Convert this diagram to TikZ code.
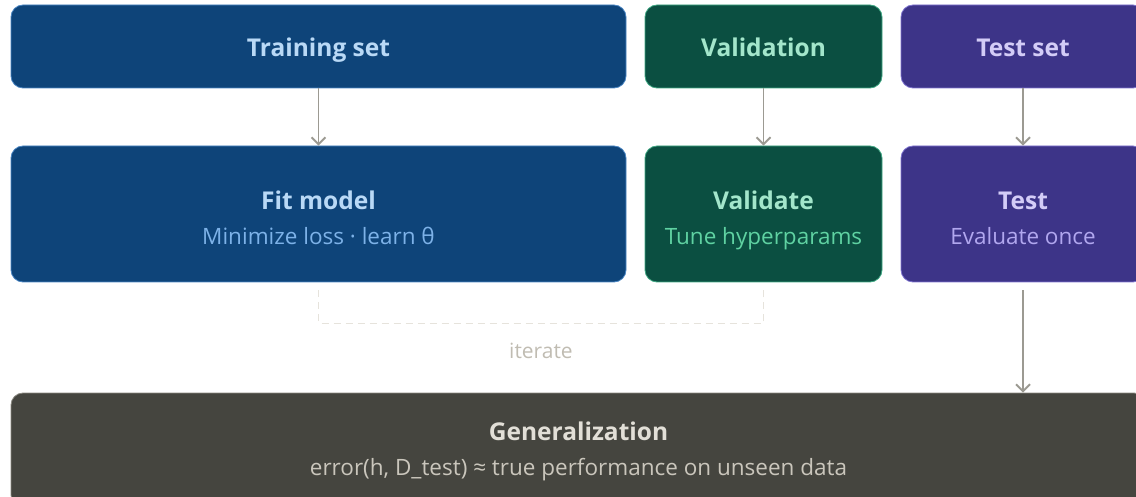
\documentclass[tikz,border=0pt]{standalone}
\usepackage{fontspec}
\setmainfont{Open Sans}
\usetikzlibrary{arrows.meta,calc}
\definecolor{trainfill}{HTML}{0E4479}
\definecolor{trainline}{HTML}{4A86C4}
\definecolor{traintitle}{HTML}{B9D9F6}
\definecolor{trainsub}{HTML}{7DB2E8}
\definecolor{valfill}{HTML}{0B4F41}
\definecolor{valline}{HTML}{3FA883}
\definecolor{valtitle}{HTML}{A3E6CB}
\definecolor{valsub}{HTML}{5FD2A2}
\definecolor{testfill}{HTML}{3D3488}
\definecolor{testline}{HTML}{7F74D0}
\definecolor{testtitle}{HTML}{D3CCF7}
\definecolor{testsub}{HTML}{B1A7EF}
\definecolor{genfill}{HTML}{45453F}
\definecolor{genline}{HTML}{8A8880}
\definecolor{gentitle}{HTML}{E2DFD7}
\definecolor{gensub}{HTML}{CAC6BC}
\definecolor{arrowgray}{HTML}{9C9A92}
\definecolor{loopgray}{HTML}{E6E3DC}
\definecolor{notegray}{HTML}{C0BCB2}
\tikzset{
  box/.style={rectangle, rounded corners=12pt, line width=0.8pt, inner sep=0pt},
  headbox/.style={box, minimum height=83pt},
  stagebox/.style={box, minimum height=136pt},
  ttl/.style={inner sep=0pt, anchor=base, font=\fontsize{24.5}{28}\selectfont\bfseries},
  sub/.style={inner sep=0pt, anchor=base, font=\fontsize{22.5}{26}\selectfont},
  flow/.style={draw=arrowgray, line width=1.9pt, -{Straight Barb[length=7pt, width=14pt, line width=1.9pt]}},
  iterloop/.style={draw=loopgray, line width=1.2pt, dash pattern=on 7pt off 5pt},
}
\begin{document}
\begin{tikzpicture}[x=1pt, y=-1pt]
\useasboundingbox (0,0) rectangle (1136,497);

% data splits
\node[headbox, fill=trainfill, draw=trainline, minimum width=615pt] (train) at (318.5,46.5) {};
\node[ttl, text=traintitle] (train-t) at ($(train.center)+(0,10.5)$) {Training set};
\node[headbox, fill=valfill, draw=valline, minimum width=237pt] (val) at (763.5,46.5) {};
\node[ttl, text=valtitle] (val-t) at ($(val.center)+(0,10.5)$) {Validation};
\node[headbox, fill=testfill, draw=testline, minimum width=244pt] (testset) at (1023,46.5) {};
\node[ttl, text=testtitle] (testset-t) at ($(testset.center)+(0,10.5)$) {Test set};

% stages
\node[stagebox, fill=trainfill, draw=trainline, minimum width=615pt] (fit) at (318.5,214) {};
\node[ttl, text=traintitle] (fit-t) at ($(fit.center)+(0,-4.5)$) {Fit model};
\node[sub, text=trainsub] (fit-s) at ($(fit.center)+(0,31)$) {Minimize loss · learn θ};
\node[stagebox, fill=valfill, draw=valline, minimum width=237pt] (validate) at (763.5,214) {};
\node[ttl, text=valtitle] (validate-t) at ($(validate.center)+(0,-4.5)$) {Validate};
\node[sub, text=valsub] (validate-s) at ($(validate.center)+(0,31)$) {Tune hyperparams};
\node[stagebox, fill=testfill, draw=testline, minimum width=244pt] (test) at (1023,214) {};
\node[ttl, text=testtitle] (test-t) at ($(test.center)+(0,-4.5)$) {Test};
\node[sub, text=testsub] (test-s) at ($(test.center)+(0,31)$) {Evaluate once};

% outcome
\node[box, fill=genfill, draw=genline, minimum width=1135pt, minimum height=114pt] (gen) at (578.5,450) {};
\node[ttl, text=gentitle] (gen-t) at ($(gen.center)+(0,-10)$) {Generalization};
\node[sub, text=gensub] (gen-s) at ($(gen.center)+(0,25)$) {error(h, D\_test) ≈ true performance on unseen data};

% flows
\draw[flow] (train) -- (fit);
\draw[flow] (val) -- (validate);
\draw[flow] (testset) -- (test);
\draw[flow, shorten <=8pt] (test) -- (test |- gen.north);

% iteration loop
\draw[iterloop] ([yshift=-8pt]fit.south) -- ++(0,33) -| ([yshift=-8pt]validate.south);
\node[text=notegray, font=\fontsize{21}{24}\selectfont] (iter) at (541,351) {iterate};
\end{tikzpicture}
\end{document}
